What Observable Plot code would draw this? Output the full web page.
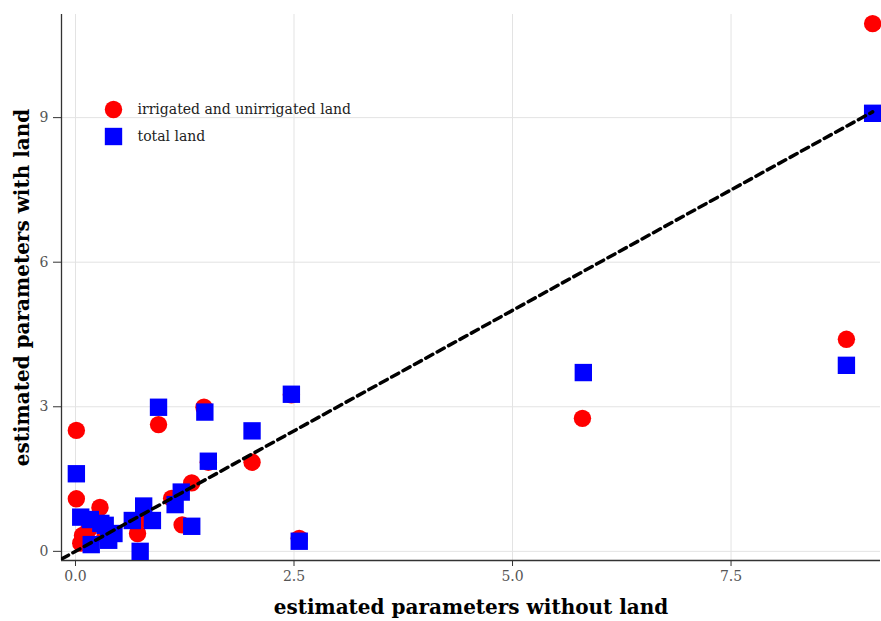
<!DOCTYPE html>
<html><head><meta charset="utf-8">
<script src="https://cdn.jsdelivr.net/npm/d3@7"></script>
<script src="https://cdn.jsdelivr.net/npm/@observablehq/plot@0.6"></script>
<style>
body{margin:0;background:#fff}
#chart{width:881px;height:621px}
</style>
</head><body><div id="chart"></div>
<script>
// irrigated and unirrigated land (red circles)
const irrigatedX = [0.01, 0.01, 0.28, 0.08, 0.06, 0.34, 0.71, 0.79, 0.95, 1.47, 1.52, 1.33, 1.10, 1.22, 2.02, 2.56, 5.80, 8.82, 9.12, 2.47, 0.15];
const irrigatedY = [2.51, 1.09, 0.91, 0.33, 0.17, 0.33, 0.37, 0.68, 2.63, 2.99, 1.85, 1.42, 1.10, 0.55, 1.85, 0.27, 2.76, 4.40, 10.95, 3.25, 0.45];
// total land (blue squares)
const totalX = [0.01, 0.06, 0.17, 0.29, 0.34, 0.44, 0.18, 0.38, 0.78, 0.65, 0.88, 0.74, 1.21, 1.14, 1.33, 0.95, 1.48, 1.52, 2.02, 2.47, 2.56, 5.81, 8.82, 9.12];
const totalY = [1.61, 0.71, 0.66, 0.58, 0.54, 0.37, 0.14, 0.23, 0.94, 0.64, 0.64, 0.00, 1.23, 0.97, 0.52, 2.99, 2.89, 1.87, 2.50, 3.26, 0.21, 3.71, 3.86, 9.09];

const xTicks = [0, 2.5, 5, 7.5];
const yTicks = [0, 3, 6, 9];
const xDomain = [-0.16, 9.21];
const yDomain = [-0.19, 11.14];
const legendLabels = ["irrigated and unirrigated land", "total land"];
const xLabel = "estimated parameters without land";
const yLabel = "estimated parameters with land";

const irrigated = irrigatedX.map((x, i) => ({x, y: irrigatedY[i]}));
const total = totalX.map((x, i) => ({x, y: totalY[i]}));
const diagEnd = d3.max(totalX);
const diag = [xDomain[0], diagEnd].map(v => ({x: v, y: v}));

const font = "'DejaVu Serif', 'Liberation Serif', serif";

const chart = Plot.plot({
  width: 881,
  height: 621,
  marginLeft: 61,
  marginRight: 1,
  marginTop: 14,
  marginBottom: 61,
  style: {fontFamily: font, background: "#fff"},
  x: {domain: xDomain},
  y: {domain: yDomain},
  marks: [
    Plot.gridX(xTicks, {stroke: "#e3e3e3", strokeOpacity: 1, strokeWidth: 1}),
    Plot.gridY(yTicks, {stroke: "#e3e3e3", strokeOpacity: 1, strokeWidth: 1}),
    Plot.axisX(xTicks, {tickFormat: d => d.toFixed(1), tickSize: 6, tickPadding: 5, fontSize: 14, color: "#555", stroke: "#333", label: null}),
    Plot.axisY(yTicks, {tickFormat: d => String(d), tickSize: 8, tickPadding: 5, fontSize: 14, color: "#555", stroke: "#333", label: null}),
    Plot.ruleX([xDomain[0]], {stroke: "#333", strokeWidth: 1.3}),
    Plot.ruleY([yDomain[0]], {stroke: "#333", strokeWidth: 1.3}),
    Plot.dot(irrigated, {x: "x", y: "y", r: 8.7, fill: "#ff0000", symbol: "circle"}),
    Plot.dot(total, {x: "x", y: "y", r: 9.8, fill: "#0000ff", symbol: "square"}),
    Plot.line(diag, {x: "x", y: "y", stroke: "#000", strokeWidth: 3.5, strokeDasharray: "8,5", clip: true}),
    Plot.dot([legendLabels[0]], {frameAnchor: "top-left", dx: 52, dy: 95, r: 8.7, fill: "#ff0000", symbol: "circle"}),
    Plot.dot([legendLabels[1]], {frameAnchor: "top-left", dx: 52, dy: 122, r: 9.8, fill: "#0000ff", symbol: "square"}),
    Plot.text([legendLabels[0]], {text: d => d, frameAnchor: "top-left", lineAnchor: "middle", dx: 76, dy: 95, textAnchor: "start", fontSize: 14, fill: "#222"}),
    Plot.text([legendLabels[1]], {text: d => d, frameAnchor: "top-left", lineAnchor: "middle", dx: 76, dy: 122, textAnchor: "start", fontSize: 14, fill: "#222"}),
    Plot.text([xLabel], {text: d => d, frameAnchor: "bottom", lineAnchor: "middle", textAnchor: "middle", dy: 47, fontSize: 20, fontWeight: "bold", fill: "#000"}),
    Plot.text([yLabel], {text: d => d, frameAnchor: "left", lineAnchor: "middle", textAnchor: "middle", dx: -39, rotate: -90, fontSize: 20, fontWeight: "bold", fill: "#000"})
  ]
});
document.getElementById("chart").appendChild(chart);
</script>
</body></html>
